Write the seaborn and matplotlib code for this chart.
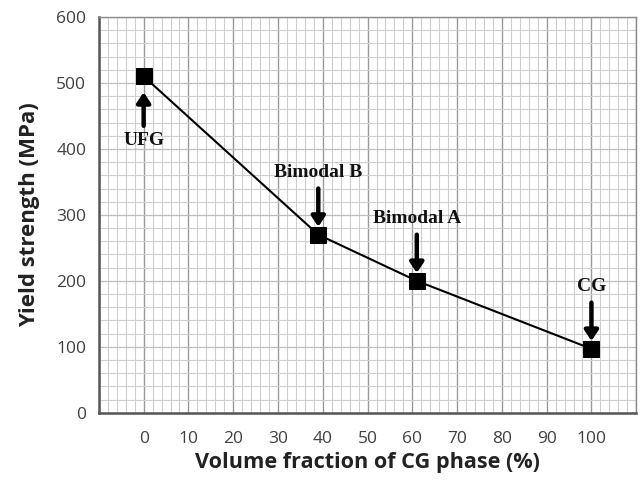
import matplotlib
matplotlib.use("Agg")
import matplotlib.pyplot as plt
import seaborn as sns
import pandas as pd
import numpy as np
from matplotlib.ticker import MultipleLocator

labels = ["UFG", "Bimodal B", "Bimodal A", "CG"]
cg_fraction = [0, 39, 61, 100]
yield_strength = [510, 270, 200, 97]
xtick_labels = ["0", "10", "20", "30", "40", "50", "60", "70", "80", "90", "100"]

df = pd.DataFrame({"x": cg_fraction, "y": yield_strength, "label": labels})

sns.set_style("white")
fig = plt.figure(figsize=(6.42, 4.84), dpi=100)
ax = fig.add_axes([0.154, 0.147, 0.837, 0.818])

ax.set_xlim(-10, 110)
ax.set_ylim(0, 600)

# grid
ax.xaxis.set_minor_locator(MultipleLocator(2))
ax.yaxis.set_minor_locator(MultipleLocator(20))
ax.set_xticks(np.arange(-10, 111, 10))
ax.set_xticklabels([""] + xtick_labels + [""])
ax.set_yticks(np.arange(0, 601, 100))
ax.grid(which="minor", color="#cfcfcf", linewidth=0.8)
ax.grid(which="major", axis="x", color="#9a9a9a", linewidth=1.0)
ax.grid(which="major", axis="y", color="#bdbdbd", linewidth=0.9)
ax.set_axisbelow(True)

sns.lineplot(data=df, x="x", y="y", ax=ax, color="black", linewidth=1.5,
             marker="s", markersize=11, markerfacecolor="black",
             markeredgecolor="black", zorder=5)

for s in ["left", "bottom"]:
    ax.spines[s].set_color("#555555")
    ax.spines[s].set_linewidth(1.8)
for s in ["top", "right"]:
    ax.spines[s].set_color("#8a8a8a")
    ax.spines[s].set_linewidth(1.0)

ax.tick_params(axis="both", which="major", direction="out", length=5,
               width=1.2, color="#555555", labelcolor="#404040",
               labelsize=12.5, pad=4)
ax.tick_params(axis="x", pad=8)
ax.tick_params(which="minor", length=0)
for t in ax.get_xticklabels() + ax.get_yticklabels():
    t.set_fontfamily("Open Sans")

ax.set_xlabel("Volume fraction of CG phase (%)", fontsize=15.6,
              fontweight="bold", family="Open Sans", color="#222222", labelpad=4)
ax.set_ylabel("Yield strength (MPa)", fontsize=16, fontweight="bold",
              family="Open Sans", color="#222222", labelpad=12)

# annotations
ann_font = dict(family="Liberation Serif", fontweight="bold", fontsize=14,
                color="#111111", ha="center", va="center")
arrow = dict(arrowstyle="-|>,head_length=0.6,head_width=0.4", color="black",
             lw=3.2, shrinkA=0, shrinkB=0)
# UFG: arrow from below
ax.annotate("", xy=(cg_fraction[0], 486), xytext=(cg_fraction[0], 435),
            arrowprops=arrow, zorder=6)
ax.text(cg_fraction[0], 413, labels[0], **ann_font)
# others: arrow from above
for i in [1, 2, 3]:
    ax.annotate("", xy=(cg_fraction[i], yield_strength[i] + 12),
                xytext=(cg_fraction[i], yield_strength[i] + 70),
                arrowprops=arrow, zorder=6)
    ax.text(cg_fraction[i], yield_strength[i] + 94, labels[i], **ann_font)

fig.savefig("out.png", dpi=100)
